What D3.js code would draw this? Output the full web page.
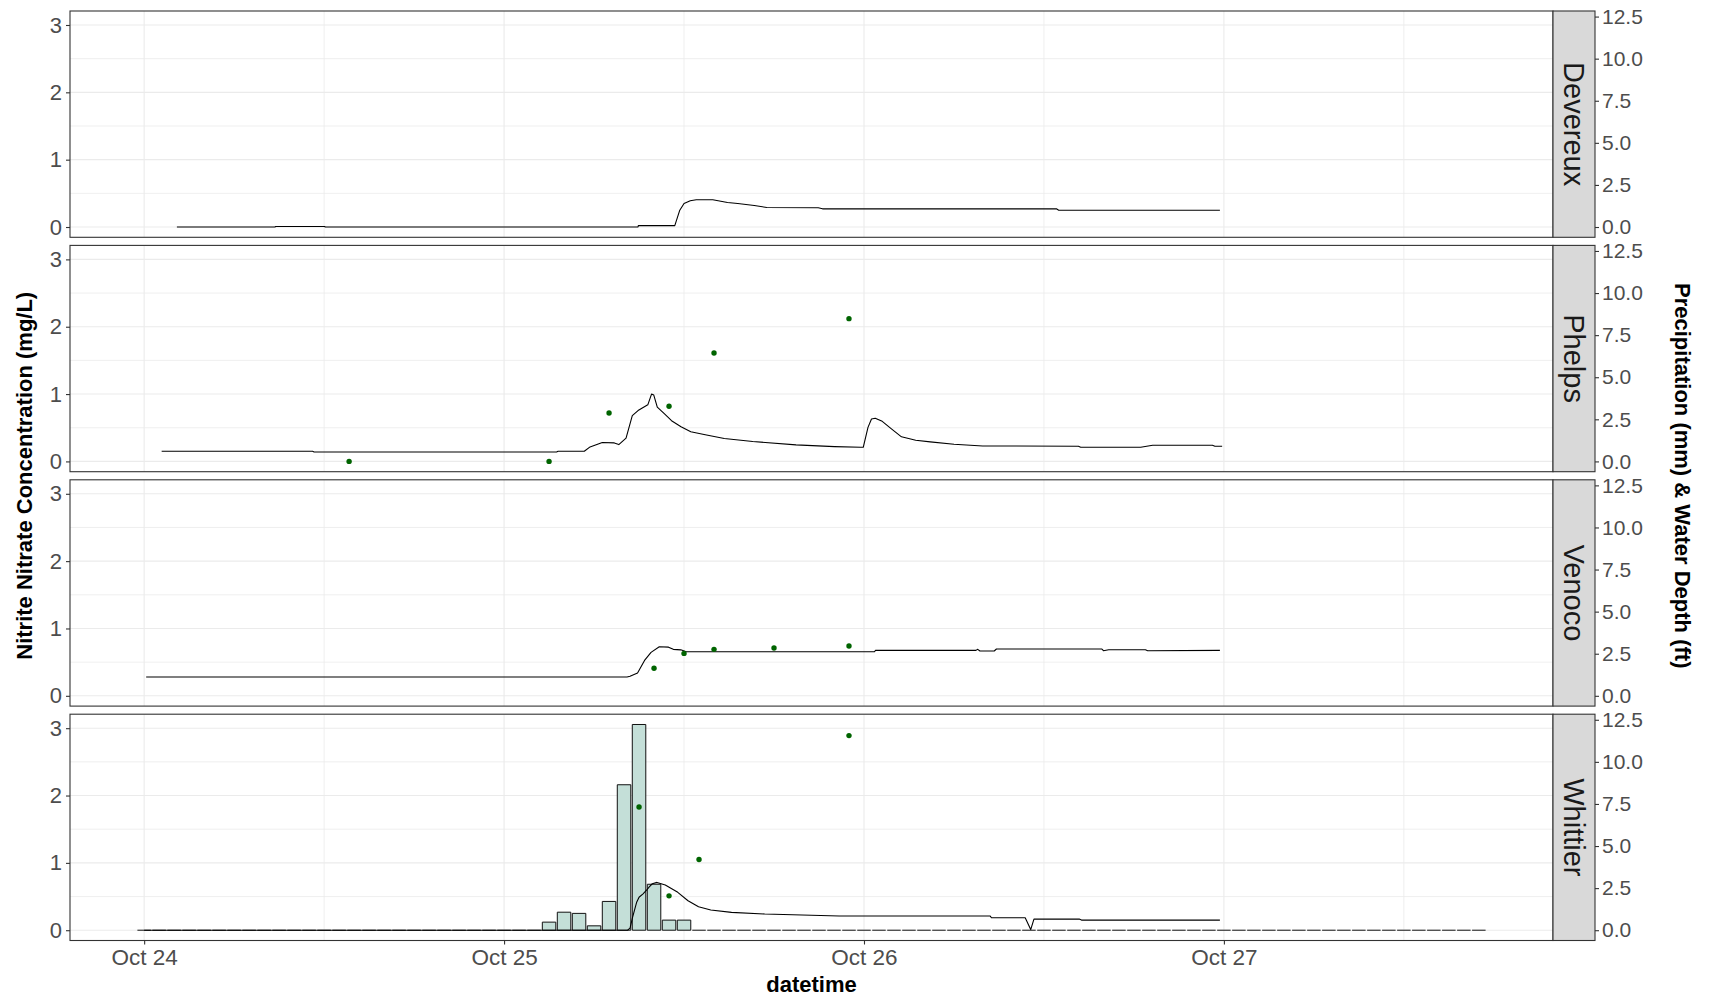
<!DOCTYPE html>
<html><head><meta charset="utf-8">
<script src="https://cdn.jsdelivr.net/npm/d3@7"></script>
<style>
body{margin:0;background:#fff}
svg{display:block}
text{font-family:"Liberation Sans",Arial,Helvetica,sans-serif}
</style>
</head><body>
<svg id="chart" width="1712" height="997"></svg>
<script>
// ---------------- DATA ----------------
const sites = ["Devereux", "Phelps", "Venoco", "Whittier"];
const xTickDates = ["2019-10-24 00:00", "2019-10-25 00:00", "2019-10-26 00:00", "2019-10-27 00:00"];
const xTickLabels = ["Oct 24", "Oct 25", "Oct 26", "Oct 27"];
const xMinorDates = ["2019-10-24 12:00", "2019-10-25 12:00", "2019-10-26 12:00", "2019-10-27 12:00"];
const yLeftTicks = [0, 1, 2, 3];
const yLeftMinor = [0.5, 1.5, 2.5];
const yRightTicks = [0, 2.5, 5.0, 7.5, 10.0, 12.5];
const yRightLabels = ["0.0", "2.5", "5.0", "7.5", "10.0", "12.5"];
const rightAxisFactor = 4; // precipitation / depth = 4 x nitrate axis

// Hourly precipitation (mm) at Whittier, starting Oct 24 00:00
const precipSite = "Whittier";
const precipStart = "2019-10-24 00:00";
const precipMm = [
  // Oct 24
  0,0,0,0,0,0,0,0,0,0,0,0,0,0,0,0,0,0,0,0,0,0,0,0,
  // Oct 25
  0,0,0,0.48,1.07,1.0,0.26,1.71,8.64,12.22,2.73,0.6,0.6,0,0,0,0,0,0,0,0,0,0,0,
  // Oct 26
  0,0,0,0,0,0,0,0,0,0,0,0,0,0,0,0,0,0,0,0,0,0,0,0,
  // Oct 27 (00:00 - 17:00)
  0,0,0,0,0,0,0,0,0,0,0,0,0,0,0,0,0,0
];

// Water depth (ft)
const depthDevereuxTime = ["2019-10-24 02:11","2019-10-24 08:44","2019-10-24 08:45","2019-10-24 12:03","2019-10-24 12:04","2019-10-25 08:56","2019-10-25 08:57","2019-10-25 11:23","2019-10-25 11:43","2019-10-25 12:00","2019-10-25 12:25","2019-10-25 12:49","2019-10-25 13:55","2019-10-25 14:54","2019-10-25 15:35","2019-10-25 16:41","2019-10-25 17:31","2019-10-25 20:57","2019-10-25 21:14","2019-10-26 12:50","2019-10-26 12:59","2019-10-26 23:44"];
const depthDevereuxFt   = [0,0,0.03,0.03,0,0,0.08,0.08,1.0,1.4,1.56,1.62,1.62,1.46,1.4,1.28,1.16,1.14,1.08,1.08,1.0,1.0];

const depthPhelpsTime = ["2019-10-24 01:10","2019-10-24 11:14","2019-10-24 11:20","2019-10-25 03:30","2019-10-25 03:36","2019-10-25 05:21","2019-10-25 05:44","2019-10-25 06:33","2019-10-25 07:21","2019-10-25 07:39","2019-10-25 08:08","2019-10-25 08:33","2019-10-25 08:56","2019-10-25 09:35","2019-10-25 09:50","2019-10-25 09:59","2019-10-25 10:13","2019-10-25 10:42","2019-10-25 11:10","2019-10-25 11:48","2019-10-25 12:27","2019-10-25 13:25","2019-10-25 14:41","2019-10-25 16:35","2019-10-25 19:28","2019-10-25 22:02","2019-10-25 23:47","2019-10-25 23:57","2019-10-26 00:16","2019-10-26 00:30","2019-10-26 00:45","2019-10-26 01:13","2019-10-26 01:51","2019-10-26 02:30","2019-10-26 03:27","2019-10-26 04:25","2019-10-26 06:00","2019-10-26 07:55","2019-10-26 14:18","2019-10-26 14:27","2019-10-26 18:27","2019-10-26 19:15","2019-10-26 23:14","2019-10-26 23:24","2019-10-26 23:53"];
const depthPhelpsFt   = [0.6,0.6,0.56,0.56,0.6,0.6,0.86,1.12,1.1,1.0,1.38,2.72,3.02,3.36,4.0,3.94,3.22,2.82,2.42,2.06,1.76,1.58,1.36,1.18,0.98,0.88,0.84,0.84,2.02,2.52,2.56,2.38,1.92,1.46,1.26,1.16,1.02,0.92,0.90,0.84,0.84,0.96,0.96,0.9,0.9];

const depthVenocoTime = ["2019-10-24 00:08","2019-10-25 08:12","2019-10-25 08:24","2019-10-25 08:54","2019-10-25 09:22","2019-10-25 09:48","2019-10-25 10:21","2019-10-25 10:58","2019-10-25 11:17","2019-10-25 11:47","2019-10-25 12:09","2019-10-26 00:42","2019-10-26 00:46","2019-10-26 07:28","2019-10-26 07:35","2019-10-26 07:44","2019-10-26 08:41","2019-10-26 08:50","2019-10-26 15:52","2019-10-26 15:58","2019-10-26 16:19","2019-10-26 18:46","2019-10-26 18:55","2019-10-26 23:44"];
const depthVenocoFt   = [1.12,1.12,1.16,1.36,2.1,2.58,2.91,2.89,2.76,2.73,2.62,2.62,2.7,2.7,2.76,2.66,2.66,2.78,2.78,2.68,2.74,2.74,2.68,2.7];

const depthWhittierTime = ["2019-10-24 00:00","2019-10-25 08:14","2019-10-25 08:24","2019-10-25 08:34","2019-10-25 08:50","2019-10-25 09:00","2019-10-25 09:16","2019-10-25 09:29","2019-10-25 09:40","2019-10-25 09:53","2019-10-25 10:12","2019-10-25 10:45","2019-10-25 11:35","2019-10-25 12:16","2019-10-25 12:58","2019-10-25 13:47","2019-10-25 15:10","2019-10-25 17:23","2019-10-25 22:21","2019-10-26 08:25","2019-10-26 08:30","2019-10-26 10:45","2019-10-26 11:07","2019-10-26 11:20","2019-10-26 14:21","2019-10-26 14:30","2019-10-26 23:44"];
const depthWhittierFt   = [0,0,0.12,0.76,1.64,1.96,2.16,2.36,2.56,2.76,2.84,2.69,2.25,1.75,1.39,1.2,1.06,0.96,0.84,0.84,0.74,0.74,0.04,0.66,0.66,0.6,0.6];

// Nitrite + nitrate concentration (mg/L)
const nitratePhelpsTime = ["2019-10-24 13:40","2019-10-25 03:00","2019-10-25 07:00","2019-10-25 11:00","2019-10-25 14:00","2019-10-25 23:00"];
const nitratePhelps     = [0.0, 0.0, 0.72, 0.82, 1.61, 2.12];
const nitrateVenocoTime = ["2019-10-25 10:00","2019-10-25 12:00","2019-10-25 14:00","2019-10-25 18:00","2019-10-25 23:00"];
const nitrateVenoco     = [0.41, 0.63, 0.69, 0.71, 0.74];
const nitrateWhittierTime = ["2019-10-25 09:00","2019-10-25 11:00","2019-10-25 13:00","2019-10-25 23:00"];
const nitrateWhittier     = [1.83, 0.51, 1.05, 2.89];

// ---------------- BUILD ----------------
const parse = d3.timeParse("%Y-%m-%d %H:%M");
const zip = (ts, vs) => ts.map((t, i) => ({t: parse(t), v: vs[i]}));
const depth = {
  Devereux: zip(depthDevereuxTime, depthDevereuxFt),
  Phelps: zip(depthPhelpsTime, depthPhelpsFt),
  Venoco: zip(depthVenocoTime, depthVenocoFt),
  Whittier: zip(depthWhittierTime, depthWhittierFt)
};
const nitrate = {
  Devereux: [],
  Phelps: zip(nitratePhelpsTime, nitratePhelps),
  Venoco: zip(nitrateVenocoTime, nitrateVenoco),
  Whittier: zip(nitrateWhittierTime, nitrateWhittier)
};
const p0 = parse(precipStart);
const precip = precipMm.map((v, i) => ({t: d3.timeHour.offset(p0, i), v}));
const halfBar = 0.45 * 3600 * 1000;

// x domain with 5% expansion (ggplot style)
let xmin = +precip[0].t - halfBar, xmax = +precip[precip.length - 1].t + halfBar;
sites.forEach(s => {
  depth[s].concat(nitrate[s]).forEach(d => { xmin = Math.min(xmin, +d.t); xmax = Math.max(xmax, +d.t); });
});
const xr = xmax - xmin;
// y domain (left units)
let ymax = d3.max(precip, d => d.v / rightAxisFactor);
sites.forEach(s => {
  depth[s].forEach(d => ymax = Math.max(ymax, d.v / rightAxisFactor));
  nitrate[s].forEach(d => ymax = Math.max(ymax, d.v));
});
const ymin = 0;
const yr = ymax - ymin;

const panelL = 70, panelR = 1553, stripW = 42;
const top0 = 11, ph = 226.3, step = 234.4;

const svg = d3.select("#chart");
const x = d3.scaleTime().domain([new Date(xmin - 0.05 * xr), new Date(xmax + 0.05 * xr)]).range([panelL, panelR]);

const gridCol = "#ebebeb", borderCol = "#333333", tickTxt = "#4d4d4d";

sites.forEach((site, i) => {
  const top = top0 + i * step, bot = top + ph;
  const y = d3.scaleLinear().domain([ymin - 0.05 * yr, ymax + 0.05 * yr]).range([bot, top]);
  const yR = v => y(v / rightAxisFactor);
  const g = svg.append("g");
  const clipId = "clip" + i;
  svg.append("clipPath").attr("id", clipId).append("rect")
    .attr("x", panelL).attr("y", top).attr("width", panelR - panelL).attr("height", ph);

  g.append("rect").attr("x", panelL).attr("y", top).attr("width", panelR - panelL).attr("height", ph).attr("fill", "#fff");
  // grid
  const grid = g.append("g").attr("clip-path", `url(#${clipId})`);
  yLeftMinor.forEach(v => grid.append("line").attr("x1", panelL).attr("x2", panelR).attr("y1", y(v)).attr("y2", y(v)).attr("stroke", gridCol).attr("stroke-width", 0.8));
  xMinorDates.forEach(d => grid.append("line").attr("x1", x(parse(d))).attr("x2", x(parse(d))).attr("y1", top).attr("y2", bot).attr("stroke", gridCol).attr("stroke-width", 0.8));
  yLeftTicks.forEach(v => grid.append("line").attr("x1", panelL).attr("x2", panelR).attr("y1", y(v)).attr("y2", y(v)).attr("stroke", gridCol).attr("stroke-width", 1.1));
  xTickDates.forEach(d => grid.append("line").attr("x1", x(parse(d))).attr("x2", x(parse(d))).attr("y1", top).attr("y2", bot).attr("stroke", gridCol).attr("stroke-width", 1.1));

  const plot = g.append("g").attr("clip-path", `url(#${clipId})`);
  // precipitation bars
  if (site === precipSite) {
    plot.append("g").selectAll("path").data(precip).join("path")
      .attr("d", d => {
        const x0 = x(new Date(+d.t - halfBar)), x1 = x(new Date(+d.t + halfBar));
        const y0 = yR(0), y1 = yR(d.v);
        return d.v > 0 ? `M${x0},${y0}V${y1}H${x1}V${y0}Z` : `M${x0},${y0}H${x1}`;
      })
      .attr("fill", "#c4dfd8").attr("stroke", "#111").attr("stroke-width", 1.0);
  }
  // depth line
  const line = d3.line().x(d => x(d.t)).y(d => yR(d.v));
  plot.append("path").datum(depth[site]).attr("d", line)
    .attr("fill", "none").attr("stroke", "#000").attr("stroke-width", 1.1).attr("stroke-linejoin", "round");
  // nitrate points
  plot.append("g").selectAll("circle").data(nitrate[site]).join("circle")
    .attr("cx", d => x(d.t)).attr("cy", d => y(d.v)).attr("r", 2.7).attr("fill", "#006400");

  // border
  g.append("rect").attr("x", panelL).attr("y", top).attr("width", panelR - panelL).attr("height", ph)
    .attr("fill", "none").attr("stroke", borderCol).attr("stroke-width", 1.1);
  // strip
  g.append("rect").attr("x", panelR).attr("y", top).attr("width", stripW).attr("height", ph)
    .attr("fill", "#d9d9d9").attr("stroke", borderCol).attr("stroke-width", 1.1);
  g.append("text").attr("transform", `translate(${panelR + stripW / 2},${top + ph / 2}) rotate(90)`)
    .attr("text-anchor", "middle").attr("dy", "0.36em").attr("font-size", 29).attr("fill", "#1a1a1a").text(site);

  // left axis
  const la = g.append("g").attr("transform", `translate(${panelL},0)`)
    .call(d3.axisLeft(y).tickValues(yLeftTicks).tickFormat(d3.format("d")).tickSize(4).tickPadding(4));
  la.select(".domain").remove();
  la.selectAll(".tick line").attr("stroke", borderCol).attr("stroke-width", 1.1);
  la.selectAll(".tick text").attr("font-size", 22).attr("fill", tickTxt).attr("font-family", null);
  // right axis
  const yRScale = d3.scaleLinear().domain(y.domain().map(v => v * rightAxisFactor)).range(y.range());
  const ra = g.append("g").attr("transform", `translate(${panelR + stripW},0)`)
    .call(d3.axisRight(yRScale).tickValues(yRightTicks).tickFormat((d, k) => yRightLabels[k]).tickSize(4).tickPadding(3));
  ra.select(".domain").remove();
  ra.selectAll(".tick line").attr("stroke", borderCol).attr("stroke-width", 1.1);
  ra.selectAll(".tick text").attr("font-size", 21).attr("fill", tickTxt).attr("font-family", null);

  if (i === sites.length - 1) {
    const xa = g.append("g").attr("transform", `translate(0,${bot})`)
      .call(d3.axisBottom(x).tickValues(xTickDates.map(parse)).tickFormat((d, k) => xTickLabels[k]).tickSize(4).tickPadding(5));
    xa.select(".domain").remove();
    xa.selectAll(".tick line").attr("stroke", borderCol).attr("stroke-width", 1.1);
    xa.selectAll(".tick text").attr("font-size", 22.5).attr("fill", tickTxt).attr("font-family", null);
  }
});

// axis titles
svg.append("text").attr("x", (panelL + panelR) / 2).attr("y", 992).attr("text-anchor", "middle")
  .attr("font-size", 22).attr("font-weight", "bold").attr("fill", "#000").text("datetime");
svg.append("text").attr("transform", `translate(32,${top0 + (step * 3 + ph) / 2}) rotate(-90)`)
  .attr("text-anchor", "middle").attr("font-size", 22).attr("font-weight", "bold").attr("fill", "#000")
  .text("Nitrite Nitrate Concentration (mg/L)");
svg.append("text").attr("transform", `translate(1675,${top0 + (step * 3 + ph) / 2}) rotate(90)`)
  .attr("text-anchor", "middle").attr("font-size", 22).attr("font-weight", "bold").attr("fill", "#000")
  .text("Precipitation (mm) & Water Depth (ft)");
</script>
</body></html>
